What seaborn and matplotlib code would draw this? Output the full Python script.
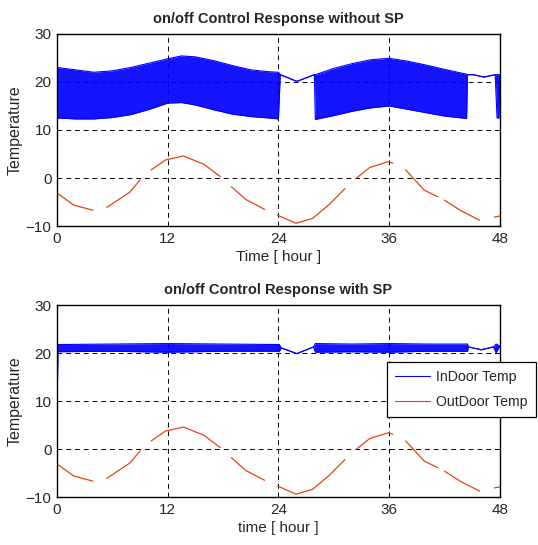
import numpy as np
import pandas as pd
import seaborn as sns
import matplotlib.pyplot as plt
from matplotlib.lines import Line2D

# outdoor temperature (same curve in both panels), seg = unbroken piece of the line
out_t = [0, 1.8, 3.9,
         5.4, 7.9, 9.0,
         10.2, 11.8, 12.8, 13.7, 15.9, 17.7,
         18.9, 20.5, 22.5,
         23.9, 25.9, 27.7, 29.5, 31.2,
         32.4, 33.9, 35.9, 36.4,
         37.8, 39.8, 41.3,
         42.0, 43.8, 45.8,
         47.4, 48.0]
out_T = [-3.1, -5.6, -6.7,
         -6.1, -2.9, -0.4,
         1.7, 3.8, 4.2, 4.6, 2.9, 0.3,
         -1.8, -4.5, -6.5,
         -7.7, -9.4, -8.4, -5.5, -2.2,
         -0.1, 2.2, 3.4, 3.1,
         1.7, -2.5, -3.9,
         -4.6, -6.8, -8.75,
         -8.1, -7.9]
out_seg = [1, 1, 1, 2, 2, 2, 3, 3, 3, 3, 3, 3, 4, 4, 4, 5, 5, 5, 5, 5,
           6, 6, 6, 6, 7, 7, 7, 8, 8, 8, 9, 9]

# indoor temp without SP: upper / lower edge of the on/off swing (equal where it does not switch)
in1_t = [0, 2, 4, 6, 8, 10, 12, 13.5, 15, 17, 19, 21, 23, 24.0,
         24.2, 26.0, 27.9,
         28.0, 30, 32, 34, 36, 38, 40, 42, 44.4,
         44.5, 45.1, 46.3, 47.5, 47.7, 47.9, 48.0]
in1_hi = [23, 22.5, 22, 22.3, 23, 23.9, 24.8, 25.4, 25.2, 24.4, 23.4, 22.5, 22.1, 22,
          21.5, 20.1, 21.5,
          21.5, 22.8, 23.8, 24.6, 24.9, 24.3, 23.5, 22.6, 21.6,
          21.5, 21.5, 21.0, 21.5, 21.5, 21.5, 21.5]
in1_lo = [12.5, 12.3, 12.3, 12.6, 13.2, 14.3, 15.6, 15.7, 15.2, 14.2, 13.3, 12.8, 12.5, 12.3,
          21.5, 20.1, 21.5,
          12.2, 13.0, 13.9, 14.6, 15.0, 14.3, 13.6, 12.9, 12.4,
          21.5, 21.5, 21.0, 21.5, 12.5, 12.5, 21.5]

# indoor temp with SP
in2_t = [0, 0.1, 6, 12, 18, 24.1,
         24.3, 26.0, 27.8,
         28.0, 32, 36, 40, 44.5,
         44.6, 46.0, 47.3, 47.6, 48.0]
in2_hi = [21.8, 21.8, 21.9, 22.0, 21.9, 21.8,
          21.1, 19.9, 21.3,
          22.0, 21.9, 22.0, 21.9, 21.9,
          21.3, 20.7, 21.3, 21.9, 21.5]
in2_lo = [8.4, 20.3, 20.4, 20.2, 20.4, 20.4,
          21.1, 19.9, 21.3,
          20.2, 20.3, 20.2, 20.4, 20.4,
          21.3, 20.7, 21.3, 20.1, 21.5]

x_ticks = [0, 12, 24, 36, 48]
y_ticks = [-10, 0, 10, 20, 30]

sns.set_style("white")
plt.rcParams['font.family'] = ['Liberation Sans', 'DejaVu Sans']

blue = '#0000ff'
red = '#e5401c'

outdoor = pd.DataFrame({"t": out_t, "T": out_T, "seg": out_seg})

fig = plt.figure(figsize=(5.38, 5.45), dpi=100)
rects = [[0.106, 0.585, 0.823, 0.353], [0.106, 0.088, 0.823, 0.352]]
panels = [(in1_t, in1_hi, in1_lo, "on/off Control Response without SP", "Time [ hour ]"),
          (in2_t, in2_hi, in2_lo, "on/off Control Response with SP", "time [ hour ]")]

axes = []
for rect, (t, hi, lo, title, xlab) in zip(rects, panels):
    ax = fig.add_axes(rect)
    ax.fill_between(t, lo, hi, color=blue, alpha=0.92, lw=0)
    sns.lineplot(x=t, y=hi, ax=ax, color=blue, lw=0.8, estimator=None)
    sns.lineplot(x=t, y=lo, ax=ax, color=blue, lw=0.8, estimator=None)
    sns.lineplot(data=outdoor, x="t", y="T", units="seg", estimator=None,
                 color=red, lw=0.9, ax=ax)
    ax.set_xlim(0, 48)
    ax.set_ylim(-10, 30)
    ax.set_xticks(x_ticks)
    ax.set_yticks(y_ticks)
    ax.grid(True, color='k', ls=(0, (5, 4)), lw=0.7)
    ax.set_axisbelow(True)
    for s in ax.spines.values():
        s.set_color('k')
        s.set_linewidth(1.0)
    ax.tick_params(direction='in', length=3, width=0.8, labelsize=11, pad=4)
    ax.set_title(title, fontsize=10.5, fontweight='bold', pad=8)
    ax.set_xlabel(xlab, fontsize=11, labelpad=3)
    ax.set_ylabel("Temperature", fontsize=11.5, labelpad=2)
    axes.append(ax)

handles = [Line2D([], [], color=blue, lw=0.8), Line2D([], [], color=red, lw=0.8)]
leg = axes[1].legend(handles, ["InDoor Temp", "OutDoor Temp"], loc='upper left',
                     bbox_to_anchor=(0.745, 0.705), fontsize=10.2, frameon=True,
                     fancybox=False, framealpha=1, edgecolor='k', borderpad=0.55,
                     handlelength=2.5, handletextpad=0.45, labelspacing=0.8,
                     borderaxespad=0)
leg.get_frame().set_linewidth(0.9)

fig.savefig("out.png", dpi=100)
